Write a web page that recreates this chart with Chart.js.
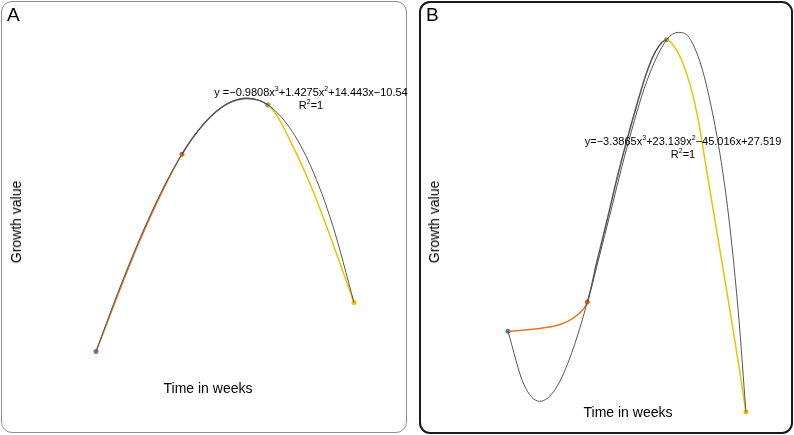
<!DOCTYPE html>
<html>
<head>
<meta charset="utf-8">
<script src="https://cdn.jsdelivr.net/npm/chart.js@4"></script>
<style>
  body { margin: 0; width: 794px; height: 435px; background: #fff; font-family: "Liberation Sans", Arial, sans-serif; position: relative; overflow: hidden; }
  .panel { position: absolute; box-sizing: border-box; border-radius: 11px; }
  #boxA { left: 1px; top: 1px; width: 406px; height: 432px; border: 1.5px solid #8e8e8e; }
  #boxB { left: 419px; top: 1px; width: 374px; height: 433px; border: 2px solid #1a1a1a; }
  .wrap { position: absolute; top: 0; height: 435px; }
  #wrapA { left: 0; width: 410px; }
  #wrapB { left: 410px; width: 384px; }
  .txt { position: absolute; color: #000; white-space: nowrap; }
  .letter { font-size: 19px; }
  .axis { font-size: 14px; }
  .ylab { transform: translate(-50%, -50%) rotate(-90deg); }
  .xlab { transform: translate(-50%, -50%); }
  .eq { font-size: 11px; transform: translate(-50%, -50%); }
  sup { font-size: 7px; vertical-align: 5px; line-height: 0; }
</style>
</head>
<body>
<div class="panel" id="boxA"></div>
<div class="panel" id="boxB"></div>
<div class="wrap" id="wrapA"><canvas id="chartA"></canvas></div>
<div class="wrap" id="wrapB"><canvas id="chartB"></canvas></div>

<div class="txt letter" style="left:7px; top:4px;">A</div>
<div class="txt letter" style="left:426px; top:4px;">B</div>
<div class="txt axis ylab" style="left:16px; top:222px;">Growth value</div>
<div class="txt axis ylab" style="left:434px; top:222px;">Growth value</div>
<div class="txt axis xlab" style="left:208px; top:388px;">Time in weeks</div>
<div class="txt axis xlab" style="left:628px; top:412px;">Time in weeks</div>
<div class="txt eq" style="left:311px; top:92px;">y =−0.9808x<sup>3</sup>+1.4275x<sup>2</sup>+14.443x−10.54</div>
<div class="txt eq" style="left:311px; top:105px;">R<sup>2</sup>=1</div>
<div class="txt eq" style="left:683px; top:141px;">y=−3.3865x<sup>3</sup>+23.139x<sup>2</sup>−45.016x+27.519</div>
<div class="txt eq" style="left:683px; top:154px;">R<sup>2</sup>=1</div>

<script>
const weeks = [1, 2, 3, 4];
const growthA = [4.35, 16.21, 19.16, 7.3];
const fitXA = [1, 1.25, 1.5, 1.75, 2, 2.25, 2.5, 2.75, 3, 3.25, 3.5, 3.75, 4];
const fitYA = [4.35, 7.83, 11.02, 13.85, 16.21, 18.01, 19.16, 19.58, 19.16, 17.81, 15.45, 11.97, 7.3];
const curveXA = [1, 1.25, 1.5, 1.75, 2, 2.25, 2.5, 2.75, 3, 3.1, 3.25, 3.5, 3.75, 4];
const curveYA = [4.35, 7.7, 10.9, 13.75, 16.21, 18.0, 19.15, 19.55, 19.16, 18.55, 17.1, 14.3, 10.9, 7.3];

// panel B
const growthB = [2.25, 2.96, 9.29, 0.3];
const fitXB = [1, 1.2, 1.4, 1.6, 1.8, 2, 2.25, 2.5, 2.75, 3, 3.15, 3.3, 3.5, 3.75, 3.9, 4];
const fitYB = [2.25, 0.97, 0.56, 0.86, 1.71, 2.95, 4.8, 6.69, 8.29, 9.29, 9.47, 9.3, 8.21, 5.52, 2.8, 0.3];
const curveXB = [1, 1.21, 1.4, 1.59, 1.74, 1.87, 2, 2.12, 2.25, 2.37, 2.5, 2.63, 2.75, 2.87, 3,
                 3.1, 3.2, 3.3, 3.4, 3.5, 3.6, 3.7, 3.8, 3.9, 4];
const curveYB = [2.25, 2.28, 2.32, 2.38, 2.48, 2.64, 2.96, 3.92, 4.94, 5.91, 6.87, 7.76, 8.51, 9.04, 9.29,
                 9.12, 8.75, 8.18, 7.35, 6.19, 5.04, 3.9, 2.74, 1.55, 0.3];

const pointColors = ["#4a80c4", "#e0661c", "#8f9c5e", "#f0c000"];
const segColors = ["#e8741e", "#555555", "#f2c000"];

function toXY(xs, ys) {
    return xs.map((x, i) => ({ x: x, y: ys[i] }));
}

function drawPanel(id, growth, fitX, fitY, curveX, curveY, ext) {
    // colour of a segment follows the week-interval it lies in
    let segColor = ctx => {
        let x = curveX[ctx.p0DataIndex];
        let k = Math.min(2, Math.floor(x + 1e-6) - 1);
        return segColors[k];
    };
    new Chart(document.getElementById(id), {
        type: "scatter",
        data: {
            datasets: [
                {
                    data: toXY(fitX, fitY),
                    showLine: true,
                    borderColor: "#555555",
                    borderWidth: 1,
                    pointRadius: 0,
                    cubicInterpolationMode: "monotone"
                },
                {
                    data: toXY(curveX, curveY),
                    showLine: true,
                    borderWidth: 1.5,
                    pointRadius: 0,
                    cubicInterpolationMode: "monotone",
                    segment: { borderColor: segColor }
                },
                {
                    data: toXY(weeks, growth),
                    showLine: false,
                    pointRadius: 2.5,
                    pointBorderWidth: 0,
                    pointBackgroundColor: pointColors,
                    pointBorderColor: pointColors
                }
            ]
        },
        options: {
            responsive: true,
            maintainAspectRatio: false,
            animation: false,
            layout: { padding: 0, autoPadding: false },
            plugins: { legend: { display: false }, tooltip: { enabled: false } },
            scales: {
                x: { type: "linear", display: false, min: ext[0], max: ext[1] },
                y: { display: false, min: ext[2], max: ext[3] }
            }
        }
    });
}

drawPanel("chartA", growthA, fitXA, fitYA, curveXA, curveYA, [-0.116, 4.651, -0.66, 25.47]);
drawPanel("chartB", growthB, fitXB, fitYB, curveXB, curveYB, [-0.235, 4.606, -0.254, 10.253]);
</script>
</body>
</html>
